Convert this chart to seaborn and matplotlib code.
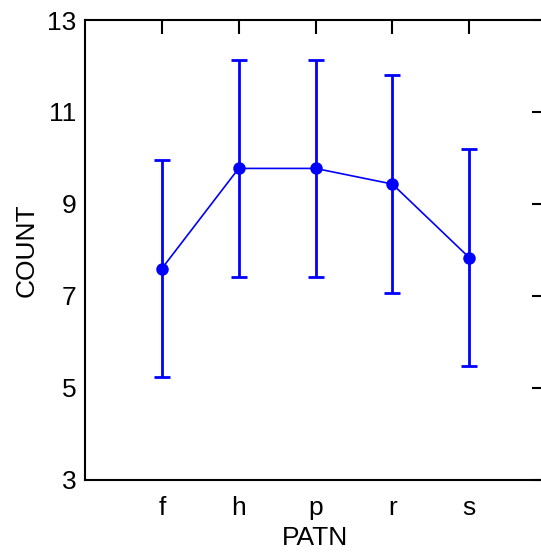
import numpy as np
import pandas as pd
import matplotlib
matplotlib.use('Agg')
import matplotlib.pyplot as plt
import seaborn as sns

# --- data ---
patn = ['f', 'h', 'p', 'r', 's']
count_mean = [7.59, 9.77, 9.77, 9.43, 7.83]
count_err = [2.37, 2.36, 2.36, 2.37, 2.36]

df = pd.DataFrame({'PATN': patn, 'COUNT': count_mean, 'ERR': count_err})

sns.set_style('white')
plt.rcParams['font.family'] = ['Liberation Sans', 'DejaVu Sans']
plt.rcParams['text.color'] = 'black'
plt.rcParams['axes.labelcolor'] = 'black'

fig = plt.figure(figsize=(5.41, 5.54), dpi=100)
ax = fig.add_axes([85 / 541, 1 - 479.5 / 554, 461 / 541, 459.5 / 554])

x = np.arange(len(df))
ax.errorbar(x, df['COUNT'], yerr=df['ERR'], fmt='none', ecolor='#0000ff',
            elinewidth=2, capsize=6, capthick=2, zorder=2)
sns.lineplot(data=df, x='PATN', y='COUNT', ax=ax, color='#0000ff', linewidth=1.2,
             marker='o', markersize=9, markeredgewidth=0, sort=False, zorder=3)

ax.set_xlim(-1, 5)
ax.set_ylim(3, 13)
ax.set_yticks([3, 5, 7, 9, 11, 13])
ax.set_xticks(x)
ax.set_xticklabels(patn)

for s in ax.spines.values():
    s.set_color('black')
    s.set_linewidth(1.5)
ax.tick_params(direction='in', length=10, width=1.5, labelsize=19,
               colors='black', labelcolor='black')
ax.tick_params(axis='x', top=True, labeltop=False, pad=12)
ax.tick_params(axis='y', right=True, labelright=False, pad=6)

ax.set_xlabel('PATN', fontsize=19, labelpad=4)
ax.set_ylabel('COUNT', fontsize=19, labelpad=6)

fig.savefig('out.png', dpi=100)
